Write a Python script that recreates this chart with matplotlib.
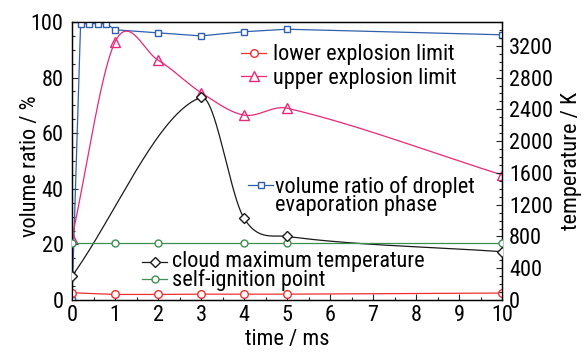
import numpy as np
import matplotlib
matplotlib.use("Agg")
import matplotlib.pyplot as plt
from matplotlib.ticker import MultipleLocator

plt.rcParams['font.family'] = ['Roboto Condensed', 'Archivo Narrow', 'Liberation Sans', 'DejaVu Sans']

# ---- data ----
t_vol = [0, 0.2, 0.4, 0.6, 0.8, 1, 2, 3, 4, 5, 10]
vol_ratio = [0, 99.4, 99.4, 99.4, 99.4, 97.2, 96.1, 95.0, 96.5, 97.4, 95.4]

t_lel = [0, 1, 2, 3, 4, 5, 10]
lel = [2.6, 2.0, 2.0, 2.1, 2.1, 2.1, 2.5]

t_uel = [0, 1, 2, 3, 4, 5, 10]
uel = [22.4, 92.8, 86.3, 74.6, 66.5, 69.0, 45.0]

t_temp = [0, 3, 4, 5, 10]
cloud_temp = [300, 2550, 1030, 800, 608]

t_ign = [0, 1, 2, 4, 5, 10]
ign = [720, 720, 720, 720, 720, 720]


def smooth(x, y, n=60):
    """Catmull-Rom style Hermite curve, used only to draw the connecting line"""
    x = np.asarray(x, float); y = np.asarray(y, float)
    m = np.empty_like(y)
    m[0] = (y[1] - y[0]) / (x[1] - x[0])
    m[-1] = (y[-1] - y[-2]) / (x[-1] - x[-2])
    m[1:-1] = (y[2:] - y[:-2]) / (x[2:] - x[:-2])
    xs_all, ys_all = [], []
    for i in range(len(x) - 1):
        h = x[i + 1] - x[i]
        s = np.linspace(0, 1, n)
        h00 = 2 * s**3 - 3 * s**2 + 1
        h10 = s**3 - 2 * s**2 + s
        h01 = -2 * s**3 + 3 * s**2
        h11 = s**3 - s**2
        xs_all.append(x[i] + s * h)
        ys_all.append(h00 * y[i] + h10 * h * m[i] + h01 * y[i + 1] + h11 * h * m[i + 1])
    return np.concatenate(xs_all), np.concatenate(ys_all)


W, H = 585, 354
fig = plt.figure(figsize=(W / 100, H / 100), dpi=100)
ax = fig.add_axes([72 / W, 1 - 300 / H, (502 - 72) / W, (300 - 22) / H])
ax2 = ax.twinx()

c_blue = '#2f5fae'
c_red = '#ee3030'
c_pink = '#e8287a'
c_green = '#3f8f52'
c_black = '#1a1a1a'
lw = 0.9

# left axis series
l_vol, = ax.plot(t_vol, vol_ratio, color=c_blue, lw=lw, marker='s', ms=5,
                 mfc='white', mec=c_blue, mew=1, zorder=3)
l_lel, = ax.plot(t_lel, lel, color=c_red, lw=lw, marker='o', ms=5.5,
                 mfc='white', mec=c_red, mew=1, zorder=3)
xs, ys = smooth(t_uel, uel)
ax.plot(xs, ys, color=c_pink, lw=lw, zorder=3)
ax.plot(t_uel, uel, ls='none', marker='^', ms=6.5, mfc='none', mec=c_pink, mew=1, zorder=3)
l_uel, = ax.plot([], [], color=c_pink, lw=lw, marker='^', ms=6.5, mfc='white', mec=c_pink, mew=1)

# right axis series
xs, ys = smooth(t_temp, cloud_temp)
ax2.plot(xs, ys, color=c_black, lw=lw, zorder=3)
ax2.plot(t_temp, cloud_temp, ls='none', marker='D', ms=5, mfc='white', mec=c_black, mew=1, zorder=4)
l_temp, = ax2.plot([], [], color=c_black, lw=lw, marker='D', ms=5, mfc='white', mec=c_black, mew=1)
l_ign, = ax2.plot(t_ign, ign, color=c_green, lw=lw, marker='o', ms=5,
                  mfc='white', mec=c_green, mew=1, zorder=3)

ax.set_xlim(0, 10)
ax.set_ylim(0, 100)
ax2.set_ylim(0, 3500)

ax.xaxis.set_major_locator(MultipleLocator(1))
ax.xaxis.set_minor_locator(MultipleLocator(0.5))
ax.yaxis.set_major_locator(MultipleLocator(20))
ax.yaxis.set_minor_locator(MultipleLocator(5))
ax2.yaxis.set_major_locator(MultipleLocator(400))
ax2.yaxis.set_minor_locator(MultipleLocator(100))

fs = 16
for a in (ax, ax2):
    a.tick_params(which='both', direction='in', labelsize=fs, color='#222222')
    a.tick_params(which='major', length=4, width=0.8)
    a.tick_params(which='minor', length=2.5, width=0.8)
    for s in a.spines.values():
        s.set_linewidth(0.9)
ax.tick_params(axis='y', pad=6, right=False)
ax.tick_params(axis='x', pad=3.5, top=False)
ax2.tick_params(axis='y', pad=5)

ax.set_xlabel('time / ms', fontsize=fs, labelpad=2.5)
ax.set_ylabel('volume ratio / %', fontsize=fs)
ax.yaxis.set_label_coords((41 - 72) / 430, (300 - 166) / 278)
ax2.set_ylabel('temperature / K', fontsize=fs, labelpad=6)

fig.canvas.draw()
renderer = fig.canvas.get_renderer()


def add_leg(handles, labels, x, y_handle, spacing):
    """legend whose first handle sits at pixel row y_handle (from top)"""
    anchor_y = 1 - (y_handle - 10) / H
    leg = fig.legend(handles, labels, loc='upper left',
                     bbox_to_anchor=(x / W, anchor_y), bbox_transform=fig.transFigure,
                     frameon=False, fontsize=fs, borderpad=0, borderaxespad=0,
                     handlelength=1.13, handletextpad=0.3, labelspacing=spacing)
    fig.canvas.draw()
    bb = leg.legend_handles[0].get_window_extent(renderer)
    cy = (bb.y0 + bb.y1) / 2
    delta = (H - y_handle) - cy
    leg.set_bbox_to_anchor((x / W, anchor_y + delta / H), transform=fig.transFigure)
    return leg


def add_block(text, x, y_last_xcenter, ls):
    """multi-line label block; y_last_xcenter is the x-height centre of its last line"""
    t = fig.text(x / W, 1 - (y_last_xcenter + 0.264 * fs * 100 / 72) / H, text,
                 fontsize=fs, va='baseline', ha='left', linespacing=ls)
    return t

# block 1: ordinary legend (rows 24 px apart)
add_leg([l_lel, l_uel], ['lower explosion limit', 'upper explosion limit'], 241, 52.7, 0.1)

# block 2: handle + two-line label
add_leg([l_vol], [''], 248, 185, 0.0)
add_block('volume ratio of droplet\nevaporation phase', 275, 205, 0.82)

# block 3: handles + two-line label
add_leg([l_temp, l_ign], ['', ''], 142, 261.5, -0.17)
add_block('cloud maximum temperature\nself-ignition point', 172, 280.5, 0.82)

fig.savefig('out.png', dpi=100)
